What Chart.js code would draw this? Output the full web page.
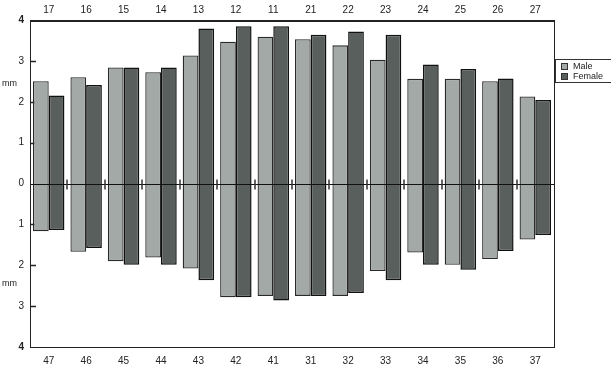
<!DOCTYPE html>
<html><head><meta charset="utf-8">
<script src="https://cdn.jsdelivr.net/npm/chart.js@4"></script>
<style>html,body{margin:0;padding:0;background:#fff}</style>
</head><body>
<canvas id="c" width="611" height="373"></canvas>
<script>
const upperTeeth = ['17','16','15','14','13','12','11','21','22','23','24','25','26','27'];
const lowerTeeth = ['47','46','45','44','43','42','41','31','32','33','34','35','36','37'];
const maleUpper   = [2.50, 2.60, 2.84, 2.72, 3.13, 3.47, 3.59, 3.53, 3.38, 3.03, 2.56, 2.56, 2.50, 2.13];
const femaleUpper = [2.15, 2.41, 2.84, 2.84, 3.79, 3.85, 3.85, 3.64, 3.72, 3.64, 2.91, 2.80, 2.57, 2.04];
const maleLower   = [-1.17, -1.67, -1.90, -1.81, -2.08, -2.78, -2.75, -2.75, -2.75, -2.14, -1.69, -1.99, -1.85, -1.37];
const femaleLower = [-1.14, -1.58, -1.99, -1.99, -2.37, -2.78, -2.86, -2.75, -2.68, -2.37, -1.99, -2.11, -1.65, -1.26];
const seriesNames = ['Male', 'Female'];
const yTickValues = [-4, -3, -2, -1, 0, 1, 2, 3, 4];

const MALE_COLOR = '#a2a9a7';
const FEMALE_COLOR = '#585f5c';

const decor = {
  id: 'decor',
  beforeDatasetsDraw(chart) {
    const {ctx, chartArea: a, scales: {y}} = chart;
    ctx.save();
    ctx.strokeStyle = '#222';
    ctx.lineWidth = 1.5;
    yTickValues.forEach(v => {
      if (v === 4 || v === -4 || v === 0) return;
      const py = Math.round(y.getPixelForValue(v)) + 0.5;
      ctx.beginPath(); ctx.moveTo(a.left, py); ctx.lineTo(a.left + 6, py); ctx.stroke();
    });
    ctx.restore();
  },
  afterDatasetsDraw(chart) {
    const {ctx, chartArea: a, scales: {x, y}} = chart;
    ctx.save();
    const zy = Math.round(y.getPixelForValue(0)) + 0.5;
    ctx.strokeStyle = '#111'; ctx.lineWidth = 1.2;
    ctx.beginPath(); ctx.moveTo(a.left, zy); ctx.lineTo(a.right, zy); ctx.stroke();
    ctx.strokeStyle = '#333'; ctx.lineWidth = 1.5;
    for (let i = 0; i < lowerTeeth.length - 1; i++) {
      const px = Math.round((x.getPixelForValue(i) + x.getPixelForValue(i + 1)) / 2);
      ctx.beginPath(); ctx.moveTo(px, zy - 5); ctx.lineTo(px, zy + 5); ctx.stroke();
    }
    ctx.strokeStyle = '#222'; ctx.lineWidth = 1;
    ctx.strokeRect(a.left + 0.5, a.top + 0.5, a.right - a.left, a.bottom - a.top);
    ctx.lineWidth = 2;
    ctx.beginPath(); ctx.moveTo(a.left, a.top + 1); ctx.lineTo(a.right, a.top + 1); ctx.stroke();
    ctx.fillStyle = '#222';
    ctx.font = '9px "Liberation Sans", Arial, sans-serif';
    ctx.textBaseline = 'middle'; ctx.textAlign = 'left';
    ctx.fillText('mm', 2, y.getPixelForValue(2.45));
    ctx.fillText('mm', 2, y.getPixelForValue(-2.45));
    const lx = a.right + 1, ly = 59;
    ctx.strokeStyle = '#333'; ctx.lineWidth = 1;
    ctx.strokeRect(lx + 0.5, ly + 0.5, 70, 23);
    const cols = [MALE_COLOR, FEMALE_COLOR];
    seriesNames.forEach((n, i) => {
      const by = ly + 4 + i * 10;
      ctx.fillStyle = cols[i];
      ctx.fillRect(lx + 6, by, 7, 7);
      ctx.strokeStyle = '#333';
      ctx.strokeRect(lx + 6.5, by + 0.5, 6, 6);
      ctx.fillStyle = '#222';
      ctx.fillText(n, lx + 18, by + 4);
    });
    ctx.restore();
  }
};

const tickFont = {family: '"Liberation Sans", Arial, sans-serif', size: 10};

new Chart(document.getElementById('c'), {
  type: 'bar',
  data: {
    labels: lowerTeeth,
    datasets: [
      {label: seriesNames[0], data: maleUpper.map((u, i) => [maleLower[i], u]),
       backgroundColor: MALE_COLOR, borderColor: '#2a2a2a', borderWidth: 1.3, borderSkipped: false,
       categoryPercentage: 0.84, barPercentage: 1.0},
      {label: seriesNames[1], data: femaleUpper.map((u, i) => [femaleLower[i], u]),
       backgroundColor: FEMALE_COLOR, borderColor: '#111', borderWidth: 1.5, borderSkipped: false,
       categoryPercentage: 0.84, barPercentage: 1.0}
    ]
  },
  options: {
    responsive: false,
    animation: false,
    devicePixelRatio: 1,
    layout: {padding: {left: 0, right: 57, top: 0, bottom: 0}},
    plugins: {legend: {display: false}, tooltip: {enabled: false}},
    scales: {
      x: {
        position: 'bottom', offset: true,
        grid: {display: false, tickLength: 0}, border: {display: false},
        ticks: {color: '#222', font: tickFont, padding: 8, maxRotation: 0},
        afterFit: s => { s.height = 26; }
      },
      x2: {
        type: 'category', labels: upperTeeth, position: 'top', offset: true,
        grid: {display: false, tickLength: 0}, border: {display: false},
        ticks: {color: '#222', font: tickFont, padding: 4, maxRotation: 0},
        afterFit: s => { s.height = 20; }
      },
      y: {
        min: -4, max: 4,
        afterBuildTicks: s => { s.ticks = yTickValues.map(v => ({value: v})); },
        grid: {display: false, tickLength: 0}, border: {display: false},
        ticks: {
          color: '#222', padding: 6,
          font: c => ({family: tickFont.family, size: 10, weight: (c && c.tick && Math.abs(c.tick.value) === 4) ? 'bold' : 'normal'}),
          callback: v => String(Math.abs(v))
        },
        afterFit: s => { s.width = 30; }
      }
    }
  },
  plugins: [decor]
});
</script>
</body></html>
